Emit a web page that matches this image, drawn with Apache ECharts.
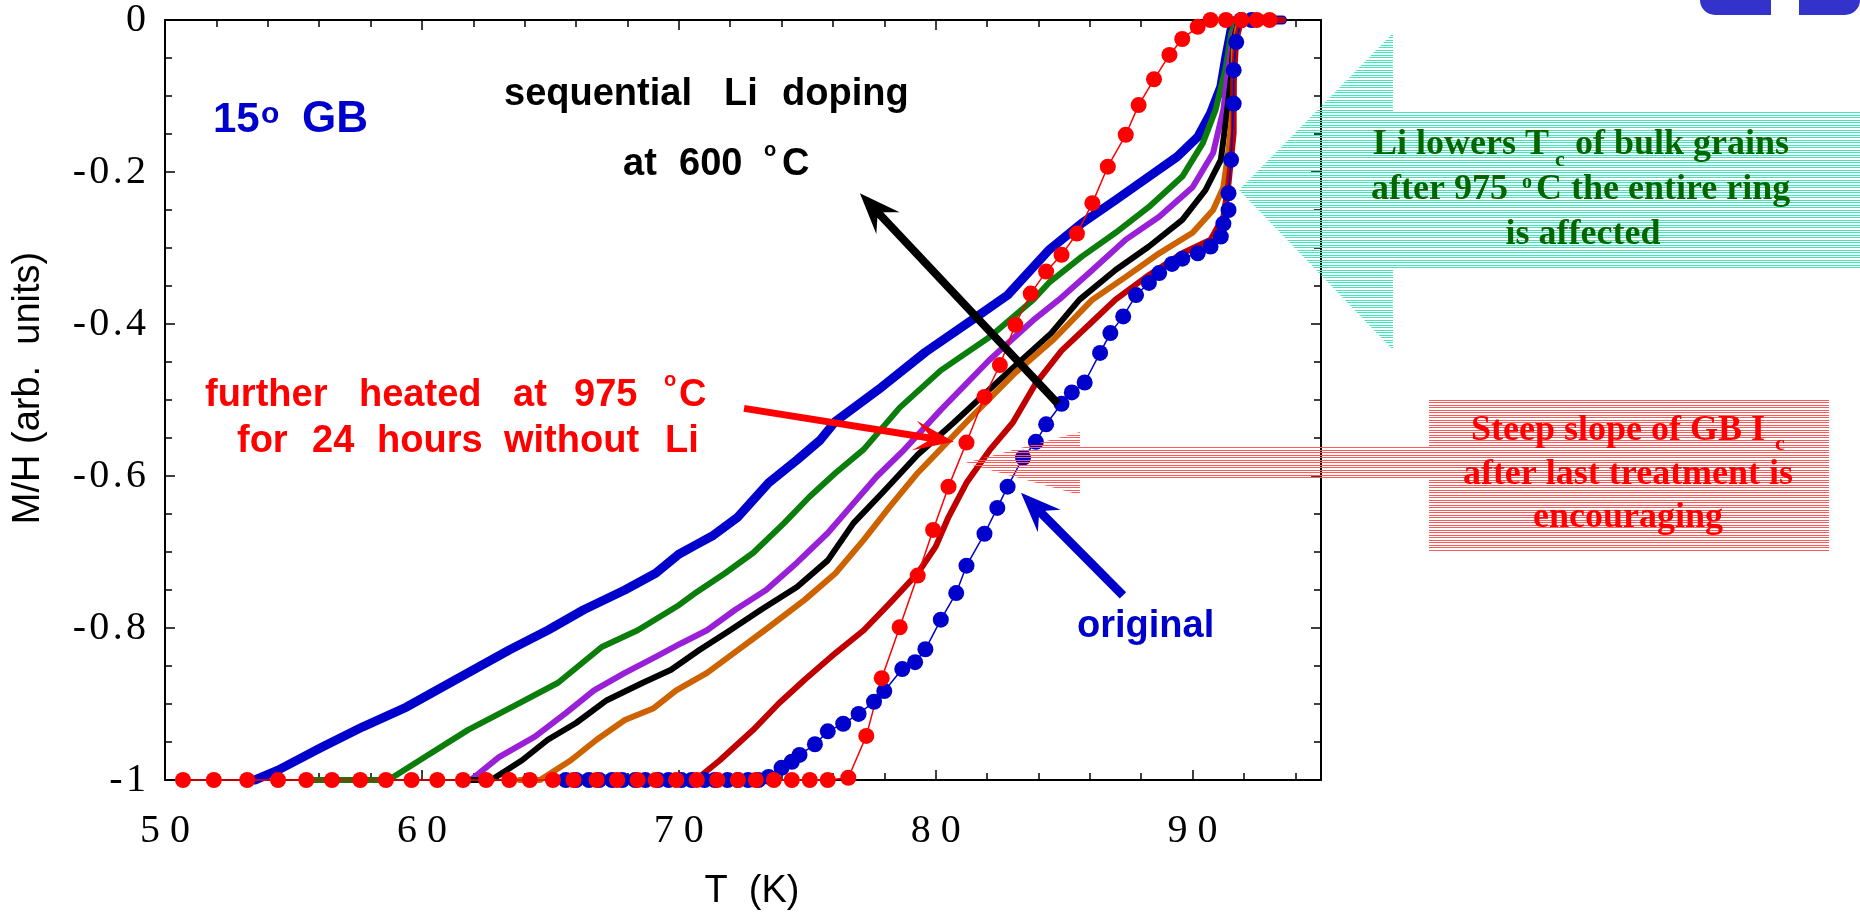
<!DOCTYPE html>
<html><head><meta charset="utf-8">
<script src="https://cdn.jsdelivr.net/npm/echarts@6/dist/echarts.min.js"></script>
<style>html,body{margin:0;padding:0;background:#fff}#c{width:1860px;height:913px}</style>
</head><body><div id="c"></div>
<script>
// ---------------- data ----------------
const xTickValues = [50, 60, 70, 80, 90];
const xTickLabels = ['50', '60', '70', '80', '90'];
const yTickValues = [-1, -0.8, -0.6, -0.4, -0.2, 0];
const yTickLabels = ['-1', '-0.8', '-0.6', '-0.4', '-0.2', '0'];

const lineBlue = [[53.5,-1],[54.4,-0.987],[56.1,-0.957],[57.7,-0.93],[59.4,-0.904],[61.1,-0.872],[63.4,-0.829],[64.9,-0.803],[66.3,-0.776],[67.9,-0.75],[69.1,-0.728],[70.0,-0.703],[70.7,-0.69],[71.3,-0.679],[72.3,-0.654],[73.5,-0.609],[74.6,-0.579],[75.5,-0.553],[76.1,-0.528],[77.9,-0.483],[79.6,-0.437],[81.4,-0.395],[82.8,-0.362],[84.4,-0.303],[85.7,-0.267],[87.0,-0.237],[88.3,-0.206],[89.4,-0.18],[90.2,-0.154],[90.7,-0.123],[91.1,-0.088],[91.3,-0.048],[91.5,-0.013],[91.7,0],[93.5,0]];
const lineGreen = [[55.8,-1],[58.7,-1],[60.1,-0.97],[61.8,-0.934],[63.5,-0.904],[65.3,-0.872],[67.0,-0.825],[68.4,-0.803],[70.0,-0.77],[70.6,-0.755],[71.8,-0.728],[72.9,-0.701],[74.1,-0.662],[75.1,-0.627],[76.1,-0.596],[77.2,-0.565],[78.6,-0.51],[80.2,-0.461],[82.1,-0.417],[83.8,-0.368],[84.4,-0.346],[85.7,-0.311],[87.0,-0.28],[88.3,-0.246],[89.6,-0.206],[90.4,-0.162],[90.9,-0.118],[91.3,-0.061],[91.5,-0.018],[91.7,0],[93.5,0]];
const linePurple = [[61.9,-1],[63.0,-0.97],[64.4,-0.943],[65.6,-0.912],[66.7,-0.882],[67.9,-0.859],[69.1,-0.838],[70.1,-0.82],[71.1,-0.803],[72.2,-0.776],[73.4,-0.75],[74.6,-0.714],[75.8,-0.675],[76.8,-0.636],[77.7,-0.601],[78.7,-0.568],[80.2,-0.513],[82.1,-0.447],[83.8,-0.395],[84.8,-0.368],[86.1,-0.329],[87.4,-0.289],[88.7,-0.259],[90.0,-0.22],[90.8,-0.175],[91.2,-0.118],[91.4,-0.061],[91.6,-0.018],[91.8,0],[93.5,0]];
const lineBlack = [[61.9,-1],[62.7,-1],[63.9,-0.974],[64.9,-0.947],[66.0,-0.925],[67.2,-0.895],[68.6,-0.872],[69.7,-0.855],[70.8,-0.829],[72.0,-0.803],[73.2,-0.776],[74.6,-0.746],[75.8,-0.711],[76.8,-0.662],[77.9,-0.623],[79.3,-0.572],[80.7,-0.53],[82.8,-0.464],[84.5,-0.412],[85.6,-0.368],[87.0,-0.329],[88.3,-0.298],[89.6,-0.263],[90.5,-0.224],[91.1,-0.184],[91.3,-0.132],[91.5,-0.075],[91.6,-0.026],[91.8,0],[93.5,0]];
const lineOrange = [[63.8,-1],[64.6,-1],[65.8,-0.974],[66.8,-0.947],[67.9,-0.921],[69.0,-0.906],[69.9,-0.882],[71.1,-0.859],[72.3,-0.829],[73.5,-0.799],[74.9,-0.763],[76.1,-0.728],[77.2,-0.684],[78.2,-0.641],[79.3,-0.596],[80.1,-0.568],[81.4,-0.522],[83.1,-0.464],[84.6,-0.42],[86.1,-0.368],[87.4,-0.338],[88.7,-0.307],[90.0,-0.28],[90.8,-0.25],[91.2,-0.22],[91.4,-0.171],[91.6,-0.105],[91.6,-0.039],[91.8,0],[93.5,0]];
const lineDarkRed = [[70.2,-1],[70.8,-0.996],[71.6,-0.974],[72.9,-0.934],[73.9,-0.899],[74.9,-0.868],[76.1,-0.833],[77.2,-0.803],[78.2,-0.768],[79.3,-0.728],[80.0,-0.693],[80.5,-0.654],[81.2,-0.609],[82.1,-0.566],[83.0,-0.53],[83.9,-0.478],[84.9,-0.435],[86.0,-0.4],[87.0,-0.368],[88.2,-0.338],[89.6,-0.307],[90.7,-0.289],[91.2,-0.259],[91.4,-0.215],[91.6,-0.149],[91.6,-0.083],[91.7,-0.026],[91.9,0],[93.5,0]];
const dotsOriginal = [[65.6,-1],[66.0,-1],[66.5,-1],[66.9,-1],[67.4,-1],[67.8,-1],[68.3,-1],[68.7,-1],[69.2,-1],[69.6,-1],[70.1,-1],[70.5,-1],[71.0,-1],[71.4,-1],[71.9,-1],[72.3,-1],[72.7,-1],[73.1,-1],[73.5,-0.996],[74.0,-0.984],[74.4,-0.976],[74.7,-0.967],[75.3,-0.953],[75.8,-0.936],[76.4,-0.926],[77.0,-0.913],[77.6,-0.897],[78.0,-0.883],[78.7,-0.854],[79.2,-0.845],[79.6,-0.828],[80.2,-0.789],[80.8,-0.754],[81.2,-0.718],[81.9,-0.676],[82.4,-0.642],[82.8,-0.614],[83.4,-0.576],[83.9,-0.555],[84.3,-0.532],[84.9,-0.505],[85.3,-0.49],[85.8,-0.477],[86.4,-0.438],[86.8,-0.412],[87.3,-0.39],[87.8,-0.362],[88.3,-0.346],[88.7,-0.333],[89.2,-0.321],[89.6,-0.314],[90.2,-0.307],[90.7,-0.298],[91.1,-0.285],[91.2,-0.268],[91.4,-0.25],[91.4,-0.228],[91.5,-0.184],[91.6,-0.11],[91.6,-0.066],[91.7,-0.029],[91.9,0],[92.3,0]];
const dotsHeated975 = [[50.7,-1],[51.9,-1],[53.2,-1],[54.4,-1],[55.5,-1],[56.5,-1],[57.6,-1],[58.6,-1],[59.6,-1],[60.6,-1],[61.6,-1],[62.5,-1],[63.4,-1],[64.2,-1],[65.1,-1],[65.9,-1],[66.8,-1],[67.6,-1],[68.4,-1],[69.1,-1],[69.9,-1],[70.7,-1],[71.5,-1],[72.3,-1],[73.0,-1],[73.7,-1],[74.4,-1],[75.1,-1],[75.8,-1],[76.6,-0.997],[77.3,-0.942],[77.9,-0.866],[78.6,-0.799],[79.3,-0.731],[79.9,-0.671],[80.5,-0.614],[81.2,-0.556],[81.9,-0.496],[82.5,-0.454],[83.1,-0.401],[83.7,-0.36],[84.3,-0.331],[84.9,-0.309],[85.5,-0.281],[86.1,-0.241],[86.7,-0.193],[87.4,-0.151],[87.9,-0.112],[88.5,-0.078],[89.1,-0.046],[89.6,-0.025],[90.2,-0.009],[90.7,0],[91.3,0],[91.9,0],[92.5,0],[93.0,0]];

// ---------------- styling ----------------
const SANS = '"Liberation Sans", Arial, sans-serif';
const SERIF = '"Liberation Serif", "Times New Roman", serif';
const chart = echarts.init(document.getElementById('c'), null, {renderer: 'canvas'});

function fmtX(v) {
  const i = xTickValues.findIndex(t => Math.abs(t - v) < 1e-6);
  return i < 0 ? '' : xTickLabels[i].split('').join(' ');
}
function fmtY(v) {
  const i = yTickValues.findIndex(t => Math.abs(t - v) < 1e-6);
  return i < 0 ? '' : yTickLabels[i].split('').join('\u200A');
}
const labelStyle = {fontFamily: SERIF, fontSize: 40, color: '#000'};
function xAx(pos, interval, major) {
  return {type: 'value', min: 50, max: 95, interval: interval, position: pos,
    axisLine: {show: major, onZero: false, lineStyle: {color: '#000', width: 2}},
    axisTick: {show: true, inside: true, length: major ? 10 : 7, lineStyle: {color: '#000', width: 1.5}},
    axisLabel: Object.assign({show: major && pos === 'bottom', formatter: fmtX, margin: 31}, labelStyle),
    splitLine: {show: false}};
}
function yAx(pos, interval, major) {
  return {type: 'value', min: -1, max: 0, interval: interval, position: pos,
    axisLine: {show: major, onZero: false, lineStyle: {color: '#000', width: 2}},
    axisTick: {show: true, inside: true, length: major ? 10 : 7, lineStyle: {color: '#000', width: 1.5}},
    axisLabel: Object.assign({show: major && pos === 'left', formatter: fmtY, margin: 19, padding: [12, 0, 0, 0]}, labelStyle),
    splitLine: {show: false}};
}
function lineSeries(data, color, width) {
  return {type: 'line', data: data, symbol: 'none', showSymbol: false, clip: false,
    lineStyle: {color: color, width: width, join: 'round', cap: 'round'}, itemStyle: {color: color}, z: 3};
}
function dotSeries(data, color) {
  return {type: 'line', data: data, symbol: 'circle', symbolSize: 16, showSymbol: true, clip: false,
    lineStyle: {color: color, width: 1.5}, itemStyle: {color: color}, z: 4};
}

const option = {
  animation: false,
  backgroundColor: '#fff',
  grid: {left: 165, right: 539, top: 20, bottom: 133},
  xAxis: [xAx('bottom', 10, true), xAx('bottom', 2, false), xAx('top', 10, true), xAx('top', 2, false)],
  yAxis: [yAx('left', 0.2, true), yAx('left', 0.05, false), yAx('right', 0.2, true), yAx('right', 0.05, false)],
  series: [
    lineSeries(lineBlue, '#0000cc', 9),
    lineSeries(lineGreen, '#0a7d0a', 6),
    lineSeries(linePurple, '#9a20d8', 6),
    lineSeries(lineBlack, '#000000', 6),
    lineSeries(lineOrange, '#cc6200', 6),
    lineSeries(lineDarkRed, '#c00000', 6),
    dotSeries(dotsOriginal, '#0000cc'),
    dotSeries(dotsHeated975, '#ff0000')
  ]
};
chart.setOption(option);

// ---------------- annotations ----------------
function word(str, x, base, size, family, weight, color, align) {
  const k = family === SERIF ? 0.3375 : 0.3465;
  return {type: 'text', x: x, y: base - k * size, z: 120,
    style: {text: str, font: weight + ' ' + size + 'px ' + family, fill: color,
      align: align || 'left', verticalAlign: 'middle'}};
}
function hatch(color) {
  const c = document.createElement('canvas');
  c.width = 4; c.height = 5;
  const g = c.getContext('2d');
  g.fillStyle = color;
  g.fillRect(0, 0, 4, 1);
  g.fillRect(0, 2, 4, 1);
  return c;
}
function arrow(from, to, color, S, L, W, N) {
  const p0 = chart.convertToPixel({gridIndex: 0}, from);
  const p1 = chart.convertToPixel({gridIndex: 0}, to);
  const dx = p1[0] - p0[0], dy = p1[1] - p0[1];
  const len = Math.hypot(dx, dy);
  const ux = dx / len, uy = dy / len, nx = -uy, ny = ux;
  const Ns = L - (L - N) * (W - S / 2) / W;
  const P = (a, b) => [p1[0] - ux * a + nx * b, p1[1] - uy * a + ny * b];
  const pts = [
    [p0[0] + nx * S / 2, p0[1] + ny * S / 2],
    P(Ns, S / 2), P(L, W), [p1[0], p1[1]], P(L, -W), P(Ns, -S / 2),
    [p0[0] - nx * S / 2, p0[1] - ny * S / 2]
  ];
  return {type: 'polygon', z: 110, shape: {points: pts}, style: {fill: color, stroke: null}};
}

const BLUE = '#0000cc', RED = '#ff0000', GREEN = '#006600';
const cyanFill = {image: hatch('#3fe8b6'), repeat: 'repeat'};
const pinkFill = {image: hatch('#ff5a5a'), repeat: 'repeat'};

const graphics = [
  // axis titles
  {type: 'text', x: 29, y: 388, rotation: Math.PI / 2, z: 120,
    style: {text: 'M/H (arb.  units)', font: '38px ' + SANS, fill: '#000', align: 'center', verticalAlign: 'middle'}},
  {type: 'text', x: 752, y: 892, z: 120,
    style: {text: 'T  (K)', font: '38px ' + SANS, fill: '#000', align: 'center', verticalAlign: 'middle'}},
  // logo corner
  {type: 'rect', z: 120, shape: {x: 1700, y: 0, width: 71, height: 15, r: [0, 0, 0, 15]}, style: {fill: '#3333cc'}},
  {type: 'rect', z: 120, shape: {x: 1799, y: 0, width: 61, height: 15, r: [0, 0, 15, 0]}, style: {fill: '#3333cc'}},
  // hatched block arrows
  {type: 'polygon', z: 105, shape: {points: [[1239,190],[1393,33],[1393,112],[1862,112],[1862,268],[1393,268],[1393,350]]}, style: {fill: cyanFill}},
  {type: 'polygon', z: 105, shape: {points: [[965,463],[1080,432],[1080,447],[1429,447],[1429,478],[1080,478],[1080,495]]}, style: {fill: pinkFill}},
  {type: 'rect', z: 105, shape: {x: 1429, y: 399, width: 400, height: 152}, style: {fill: pinkFill}},
  // arrows
  arrow([84.76, -0.505], [77.05, -0.228], '#000000', 8, 41, 16, 26),
  arrow([72.54, -0.511], [80.71, -0.555], RED, 7, 40, 15, 22),
  arrow([87.29, -0.757], [83.32, -0.622], BLUE, 9, 40, 16, 26),
  // 15° GB
  word('15', 213, 135, 42, SANS, 'bold', BLUE),
  word('o', 261, 125, 30, SANS, 'bold', BLUE),
  word('GB', 302, 135, 44, SANS, 'bold', BLUE),
  // sequential Li doping at 600 °C
  word('sequential', 504, 108, 38, SANS, 'bold', '#000'),
  word('Li', 724, 108, 38, SANS, 'bold', '#000'),
  word('doping', 782, 108, 38, SANS, 'bold', '#000'),
  word('at', 623, 178, 38, SANS, 'bold', '#000'),
  word('600', 679, 178, 38, SANS, 'bold', '#000'),
  word('o', 764, 157, 20, SANS, 'bold', '#000'),
  word('C', 782, 178, 38, SANS, 'bold', '#000'),
  // further heated ...
  word('further', 205, 409, 38, SANS, 'bold', RED),
  word('heated', 359, 409, 38, SANS, 'bold', RED),
  word('at', 513, 409, 38, SANS, 'bold', RED),
  word('975', 574, 409, 38, SANS, 'bold', RED),
  word('o', 664, 387, 20, SANS, 'bold', RED),
  word('C', 679, 409, 38, SANS, 'bold', RED),
  word('for', 237, 455, 38, SANS, 'bold', RED),
  word('24', 312, 455, 38, SANS, 'bold', RED),
  word('hours', 377, 455, 38, SANS, 'bold', RED),
  word('without', 504, 455, 38, SANS, 'bold', RED),
  word('Li', 665, 455, 38, SANS, 'bold', RED),
  // original
  word('original', 1077, 640, 38, SANS, 'bold', BLUE),
  // green box text
  word('Li lowers T', 1373, 157, 36, SERIF, 'bold', GREEN),
  word('c', 1555, 168, 22, SERIF, 'bold', GREEN),
  word('of bulk grains', 1575, 157, 36, SERIF, 'bold', GREEN),
  word('after 975', 1371, 202, 36, SERIF, 'bold', GREEN),
  word('o', 1522, 190, 20, SERIF, 'bold', GREEN),
  word('C the entire ring', 1536, 202, 36, SERIF, 'bold', GREEN),
  word('is affected', 1583, 247, 36, SERIF, 'bold', GREEN, 'center'),
  // red box text
  word('Steep slope of GB I', 1471, 443, 36, SERIF, 'bold', RED),
  word('c', 1775, 452, 22, SERIF, 'bold', RED),
  word('after last treatment is', 1628, 487, 36, SERIF, 'bold', RED, 'center'),
  word('encouraging', 1628, 530, 36, SERIF, 'bold', RED, 'center')
];
chart.setOption({graphic: {elements: graphics}});
</script>
</body></html>
